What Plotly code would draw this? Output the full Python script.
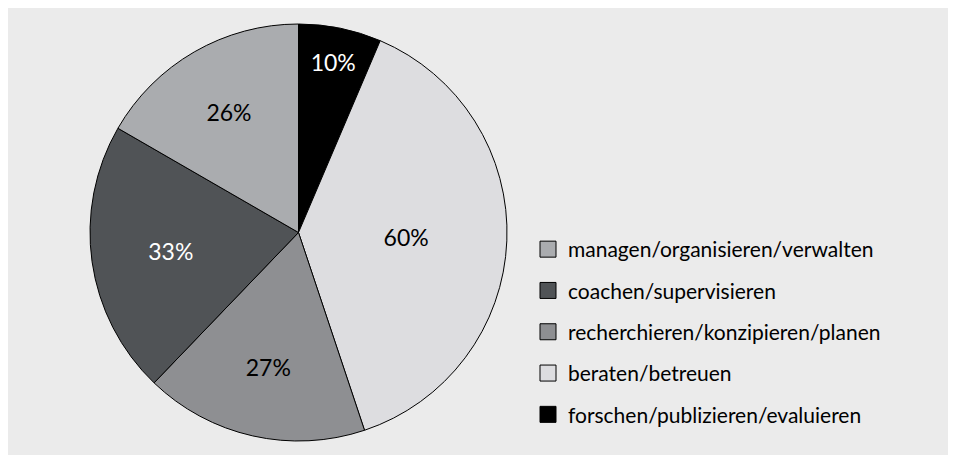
# -*- coding: UTF-8 -*-
import plotly.graph_objects as go

categories = ['managen/organisieren/verwalten', 'coachen/supervisieren',
              'recherchieren/konzipieren/planen', 'beraten/betreuen',
              'forschen/publizieren/evaluieren']
values = [26, 33, 27, 60, 10]
colors = ['#aaacaf', '#505356', '#8e8f92', '#dddde0', '#000000']
text_colors = ['black', 'white', 'black', 'black', 'white']

W, H = 956, 455
FONT = 'Lato'


def plot_pie():
    fig = go.Figure()
    # slices run clockwise from 12 o'clock, last legend entry first
    fig.add_trace(go.Pie(
        labels=categories[::-1], values=values[::-1], sort=False,
        direction='clockwise', rotation=0,
        marker=dict(colors=colors[::-1], line=dict(color='black', width=1)),
        texttemplate='%{value}%', textposition='inside',
        insidetextorientation='horizontal',
        textfont=dict(family=FONT, size=23, color=text_colors[::-1]),
        domain=dict(x=[82 / W, 499 / W], y=[22 / H, 439 / H]),
        showlegend=False, hoverinfo='label+value',
    ))
    # legend entries with bigger square symbols
    for i, (name, col) in enumerate(zip(categories, colors)):
        fig.add_trace(go.Scatter(
            x=[None], y=[None], mode='markers', name=name,
            legendgroup='g%d' % i,
            marker=dict(symbol='square', size=16, color=col,
                        line=dict(color='black', width=1)),
        ))
    fig.update_xaxes(visible=False)
    fig.update_yaxes(visible=False)
    fig.update_layout(
        width=W, height=H,
        margin=dict(l=0, r=0, t=0, b=0),
        paper_bgcolor='#ebebeb', plot_bgcolor='rgba(0,0,0,0)',
        font=dict(family=FONT, color='black'),
        legend=dict(x=520 / W, y=(H - 221) / H, xanchor='left', yanchor='top',
                    traceorder='grouped', tracegroupgap=11,
                    font=dict(family=FONT, size=21, color='black'),
                    bgcolor='rgba(0,0,0,0)', itemwidth=30),
    )
    fig.write_html('out.html')


if __name__ == '__main__':
    plot_pie()
